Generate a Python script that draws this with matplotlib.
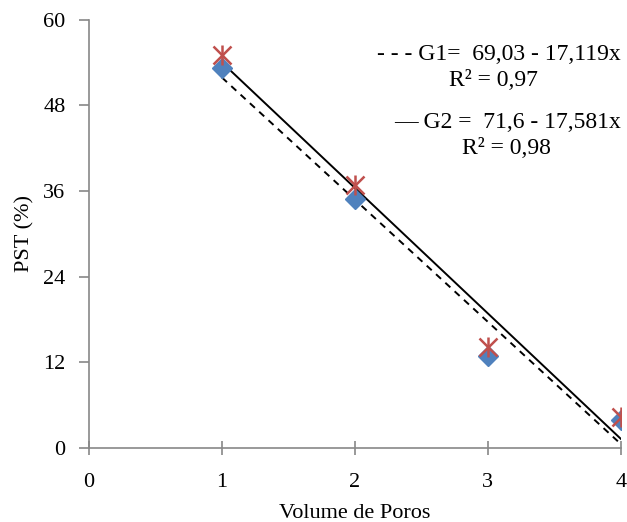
import matplotlib.pyplot as plt
import numpy as np

plt.rcParams['font.family'] = ['Liberation Serif', 'DejaVu Serif']

volume = [1, 2, 3, 4]
pst_g1 = [53.3, 34.9, 12.9, 3.9]
pst_g2 = [55.1, 36.9, 14.2, 4.3]

# fitted lines: intercept, slope
g1_fit = (69.03, -17.119)
g2_fit = (71.6, -17.581)

fig = plt.figure(figsize=(6.27, 5.22), dpi=100)
ax = fig.add_axes([0.142, 0.142, 0.848, 0.82])

xs = np.array([1, 4])
ax.plot(xs, g1_fit[0] + g1_fit[1] * xs, color='black', lw=1.4, ls=(0, (3.5, 3)), zorder=2)
ax.plot(xs, g2_fit[0] + g2_fit[1] * xs, color='black', lw=1.4, zorder=2)

ax.plot(volume, pst_g1, ls='none', marker='D', ms=10.5, color='#4F81BD', mec='#4F81BD', zorder=3)
# star marker: x with a vertical bar
ax.plot(volume, pst_g2, ls='none', marker='x', ms=13, mew=1.8, color='#C0504D', zorder=4)
ax.plot(volume, pst_g2, ls='none', marker='|', ms=14, mew=1.8, color='#C0504D', zorder=4)

ax.set_xlim(0, 4)
ax.set_ylim(0, 60)
ax.set_xticks([0, 1, 2, 3, 4])
ax.set_yticks([0, 12, 24, 36, 48, 60])

for s in ['top', 'right']:
    ax.spines[s].set_visible(False)
for s in ['left', 'bottom']:
    ax.spines[s].set_color('#888888')
    ax.spines[s].set_linewidth(1.2)
ax.tick_params(axis='y', direction='out', length=7, width=1.2, color='#888888', labelsize=16, pad=10)
ax.tick_params(axis='x', direction='inout', length=10, width=1.2, color='#888888', labelsize=16, pad=13)

ax.set_xlabel('Volume de Poros', fontsize=16, labelpad=9)
ax.set_ylabel('PST (%)', fontsize=16, labelpad=6)

ax.text(4.0, 55.1, '- - - G1=  69,03 - 17,119x', ha='right', va='center', fontsize=17)
ax.text(3.045, 51.5, 'R² = 0,97', ha='center', va='center', fontsize=17)
ax.text(4.0, 45.6, '— G2 =  71,6 - 17,581x', ha='right', va='center', fontsize=17)
ax.text(3.14, 42.0, 'R² = 0,98', ha='center', va='center', fontsize=17)

fig.savefig('out.png', dpi=100)
